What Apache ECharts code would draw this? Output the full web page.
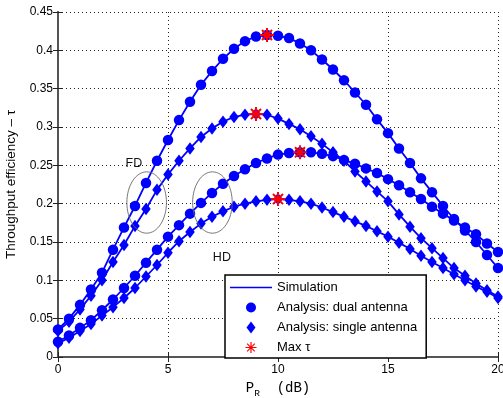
<!DOCTYPE html>
<html><head><meta charset="utf-8">
<script src="https://cdn.jsdelivr.net/npm/echarts@6/dist/echarts.min.js"></script>
<style>html,body{margin:0;padding:0;background:#fff}#c{width:503px;height:398px}</style>
</head><body><div id="c"></div>
<script>
// ---- data ----
const xValues = [0,0.5,1,1.5,2,2.5,3,3.5,4,4.5,5,5.5,6,6.5,7,7.5,8,8.5,9,9.5,10,10.5,11,11.5,12,12.5,13,13.5,14,14.5,15,15.5,16,16.5,17,17.5,18,18.5,19,19.5,20];
const fdDual   = [0.036,0.050,0.068,0.088,0.110,0.140,0.169,0.197,0.227,0.256,0.283,0.309,0.333,0.355,0.373,0.389,0.402,0.412,0.418,0.420,0.419,0.416,0.409,0.400,0.388,0.375,0.361,0.345,0.329,0.310,0.292,0.272,0.253,0.233,0.215,0.197,0.180,0.165,0.150,0.133,0.116];
const fdSingle = [0.034,0.046,0.062,0.080,0.100,0.124,0.146,0.171,0.193,0.218,0.238,0.256,0.272,0.287,0.298,0.307,0.313,0.316,0.317,0.316,0.311,0.304,0.297,0.288,0.278,0.267,0.256,0.242,0.229,0.216,0.203,0.186,0.170,0.155,0.142,0.129,0.116,0.106,0.096,0.087,0.079];
const hdDual   = [0.020,0.028,0.038,0.048,0.061,0.075,0.090,0.106,0.123,0.140,0.157,0.172,0.187,0.201,0.214,0.226,0.236,0.245,0.253,0.259,0.264,0.266,0.267,0.267,0.265,0.262,0.257,0.252,0.246,0.240,0.232,0.224,0.215,0.206,0.196,0.187,0.178,0.169,0.160,0.148,0.137];
const hdSingle = [0.018,0.025,0.034,0.043,0.054,0.065,0.077,0.090,0.105,0.120,0.136,0.151,0.163,0.174,0.183,0.190,0.196,0.200,0.203,0.205,0.206,0.205,0.203,0.200,0.195,0.189,0.183,0.177,0.171,0.164,0.157,0.149,0.141,0.132,0.124,0.116,0.108,0.100,0.092,0.085,0.077];
const maxX = [9.5, 9, 11, 10];
const maxY = [0.420, 0.317, 0.267, 0.206];
const legendNames = ['Simulation', 'Analysis: dual antenna', 'Analysis: single antenna', 'Max τ'];
const xAxisTitle = 'P_R (dB)';
const yAxisTitle = 'Throughput efficiency – τ';
const groupLabels = ['FD', 'HD'];

// ---- chart ----
const BLUE = '#0000ff', RED = '#ff0000';
const FONT = '"Liberation Sans", Arial, Helvetica, sans-serif';
const MONO = '"Liberation Mono", "DejaVu Sans Mono", monospace';
const pairs = arr => xValues.map((x, i) => [x, arr[i]]);

const STAR = 'path://M-10,-1.4 L10,-1.4 L10,1.4 L-10,1.4 Z M-1.4,-10 L1.4,-10 L1.4,10 L-1.4,10 Z M-6.2,-8.2 L8.2,6.2 L6.2,8.2 L-8.2,-6.2 Z M-8.2,6.2 L6.2,-8.2 L8.2,-6.2 L-6.2,8.2 Z';
const LEG_LINE = 'path://M0,0 M42,12 M0,5.2 L42,5.2 L42,6.8 L0,6.8 Z';
const LEG_CIRCLE = 'path://M0,0 M42,12 M16,6 A5,5 0 1,1 26,6 A5,5 0 1,1 16,6 Z';
const LEG_DIAMOND = 'path://M0,0 M42,12 M21,0 L25.5,6 L21,12 L16.5,6 Z';
const LEG_STAR = 'path://M0,0 M42,12 M15.5,5.4 L26.5,5.4 L26.5,6.6 L15.5,6.6 Z M20.4,0.5 L21.6,0.5 L21.6,11.5 L20.4,11.5 Z M17.5,1.7 L25.2,9.4 L24.4,10.2 L16.7,2.5 Z M16.7,9.5 L24.4,1.8 L25.2,2.6 L17.5,10.3 Z';

const lineSeries = [fdDual, fdSingle, hdDual, hdSingle].map(arr => ({
  name: legendNames[0], type: 'line', data: pairs(arr), showSymbol: false, symbol: 'none',
  lineStyle: { color: BLUE, width: 1.8 }, itemStyle: { color: BLUE }, z: 2, silent: true, animation: false
}));
const dualSeries = [fdDual, hdDual].map(arr => ({
  name: legendNames[1], type: 'scatter', data: pairs(arr), symbol: 'circle', symbolSize: 10.5,
  itemStyle: { color: BLUE, opacity: 1 }, z: 3, animation: false
}));
const singleSeries = [fdSingle, hdSingle].map(arr => ({
  name: legendNames[2], type: 'scatter', data: pairs(arr), symbol: 'diamond', symbolSize: [9.5, 12.5],
  itemStyle: { color: BLUE, opacity: 1 }, z: 3, animation: false
}));
const maxSeries = {
  name: legendNames[3], type: 'scatter', data: maxX.map((x, i) => [x, maxY[i]]), symbol: STAR, symbolSize: 14,
  itemStyle: { color: RED, opacity: 1 }, z: 4, animation: false
};

const chart = echarts.init(document.getElementById('c'), null, { renderer: 'canvas' });
const gridLine = { show: true, lineStyle: { color: '#222', width: 1, type: [1, 3] } };
const frame = { show: true, lineStyle: { color: '#555', width: 2 } };
const subName = xAxisTitle.split('_');
chart.setOption({
  animation: false,
  backgroundColor: '#fff',
  grid: { left: 58, right: 5, top: 12, bottom: 41, containLabel: false, outerBoundsMode: 'none' },
  xAxis: [
    { type: 'value', position: 'bottom', min: 0, max: 20, interval: 5,
      axisLine: { show: true, lineStyle: { color: '#222', width: 2 } },
      axisTick: { show: true, inside: true, length: 5, lineStyle: { color: '#222' } },
      axisLabel: { color: '#000', fontSize: 12, fontFamily: FONT, margin: 7 },
      splitLine: gridLine,
      name: '{p|' + subName[0] + '}{r|' + subName[1].split(' ')[0] + '}{p|  ' + subName[1].split(' ').slice(1).join(' ') + '}',
      nameLocation: 'middle', nameGap: 14,
      nameTextStyle: { fontFamily: MONO, color: '#000',
        rich: { p: { fontFamily: MONO, fontSize: 14, color: '#000', lineHeight: 22 },
                r: { fontFamily: MONO, fontSize: 9.5, color: '#000', verticalAlign: 'bottom', lineHeight: 22 } } } },
    { type: 'value', position: 'top', min: 0, max: 20, interval: 5,
      axisLine: frame, axisTick: { show: true, inside: true, length: 5, lineStyle: { color: '#222' } },
      axisLabel: { show: false }, splitLine: { show: false } }
  ],
  yAxis: [
    { type: 'value', position: 'left', min: 0, max: 0.45, interval: 0.05,
      axisLine: frame,
      axisTick: { show: true, inside: true, length: 5, lineStyle: { color: '#222' } },
      axisLabel: { color: '#000', fontSize: 12, fontFamily: FONT, margin: 5 },
      splitLine: gridLine,
      name: yAxisTitle, nameLocation: 'middle', nameGap: 37, nameRotate: 90,
      nameTextStyle: { fontFamily: FONT, fontSize: 13.5, color: '#000' } },
    { type: 'value', position: 'right', min: 0, max: 0.45, interval: 0.05,
      axisLine: frame, axisTick: { show: true, inside: true, length: 5, lineStyle: { color: '#222' } },
      axisLabel: { show: false }, splitLine: { show: false } }
  ],
  legend: {
    left: 225, top: 275, orient: 'vertical',
    backgroundColor: '#fff', borderColor: '#000', borderWidth: 1.5, borderRadius: 0,
    padding: [6, 9, 4, 5], itemGap: 7, itemWidth: 42, itemHeight: 12,
    textStyle: { fontFamily: FONT, fontSize: 13, color: '#000' },
    selectedMode: false,
    data: [
      { name: legendNames[0], icon: LEG_LINE },
      { name: legendNames[1], icon: LEG_CIRCLE },
      { name: legendNames[2], icon: LEG_DIAMOND },
      { name: legendNames[3], icon: LEG_STAR }
    ]
  },
  series: [...lineSeries, ...dualSeries, ...singleSeries, maxSeries]
});

// annotations (ellipses + group labels) placed in data coordinates
function px(x, y) { return chart.convertToPixel({ gridIndex: 0 }, [x, y]); }
const ellipses = [[4.03, 0.2015], [7.02, 0.2015]].map(c => {
  const p = px(c[0], c[1]), q = px(c[0] + 0.9, c[1] + 0.04);
  return { type: 'ellipse', silent: true, z: 10,
    shape: { cx: p[0], cy: p[1], rx: Math.abs(q[0] - p[0]), ry: Math.abs(q[1] - p[1]) },
    style: { fill: 'none', stroke: '#666', lineWidth: 0.9 } };
});
const labelPos = [[3.45, 0.252], [7.45, 0.130]];
const labels = groupLabels.map((t, i) => {
  const p = px(labelPos[i][0], labelPos[i][1]);
  return { type: 'text', silent: true, z: 10, x: p[0], y: p[1],
    style: { text: t, fill: '#111', font: '12.5px ' + FONT, textAlign: 'center', textVerticalAlign: 'middle' } };
});
chart.setOption({ graphic: [...ellipses, ...labels] });
</script>
</body></html>
